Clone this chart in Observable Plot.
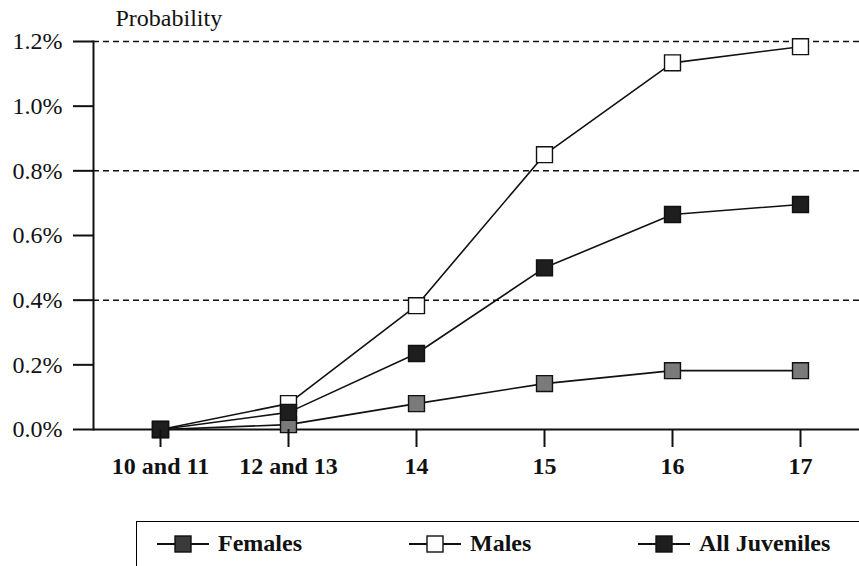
<!DOCTYPE html>
<html>
<head>
<meta charset="utf-8">
<script src="https://cdn.jsdelivr.net/npm/d3@7"></script>
<script src="https://cdn.jsdelivr.net/npm/@observablehq/plot@0.6"></script>
<style>
  html, body { margin: 0; padding: 0; background: #fff; }
  #wrap { position: relative; width: 859px; height: 566px; overflow: hidden; font-family: "Liberation Serif", "Times New Roman", Times, "DejaVu Serif", serif; }
  #chart svg { display: block; font-family: "Liberation Serif", "Times New Roman", Times, "DejaVu Serif", serif !important; }
  #chart svg text { font-family: "Liberation Serif", "Times New Roman", Times, "DejaVu Serif", serif !important; }
  #legend { position: absolute; left: 136px; top: 521px; width: 760px; height: 60px; border-top: 1.5px solid #000; border-left: 1.5px solid #000; }
  .item { position: absolute; top: 8px; display: flex; align-items: center; font-weight: bold; font-size: 24px; color: #111; }
  .item svg { margin-right: 8px; }
</style>
</head>
<body>
<div id="wrap">
  <div id="chart"></div>
  <div id="legend"></div>
</div>
<script>
const ages = ["10 and 11", "12 and 13", "14", "15", "16", "17"];
const females = [0, 0.015, 0.08, 0.142, 0.182, 0.182];
const males = [0, 0.08, 0.383, 0.85, 1.134, 1.184];
const allJuveniles = [0, 0.053, 0.235, 0.50, 0.665, 0.696];
const yTicks = [0, 0.2, 0.4, 0.6, 0.8, 1.0, 1.2];
const gridTicks = [0.4, 0.8, 1.2];

const seriesNames = ["Females", "Males", "All Juveniles"];
const seriesValues = [females, males, allJuveniles];
const fills = {"Females": "#7a7a7a", "Males": "#ffffff", "All Juveniles": "#1e1e1e"};

const rows = [];
seriesNames.forEach((s, i) => ages.forEach((a, j) => rows.push({series: s, age: a, value: seriesValues[i][j]})));

const font = "'Liberation Serif', 'Times New Roman', Times, 'DejaVu Serif', serif";

const chart = Plot.plot({
  width: 859,
  height: 515,
  marginLeft: 93,
  marginRight: 0,
  marginTop: 41,
  marginBottom: 86,
  style: {fontFamily: font, background: "#fff", color: "#111"},
  x: {type: "point", domain: ages, range: [158, 801], padding: 0},
  y: {domain: [0, 1.2]},
  marks: [
    Plot.ruleY(gridTicks, {stroke: "#111", strokeWidth: 1.5, strokeDasharray: "6,4"}),
    Plot.frame({anchor: "left", stroke: "#111", strokeWidth: 2}),
    Plot.ruleY([0], {stroke: "#111", strokeWidth: 2}),
    Plot.line(rows, {x: "age", y: "value", z: "series", stroke: "#111", strokeWidth: 1.6}),
    Plot.dot(rows, {x: "age", y: "value", symbol: "square", r: 9, fill: d => fills[d.series], stroke: "#111", strokeWidth: 1.4}),
    Plot.axisY({ticks: yTicks, tickFormat: d => d.toFixed(1) + "%", tickSize: 20, tickPadding: 11, fontSize: 24, label: null, strokeWidth: 2, stroke: "#111"}),
    Plot.axisX({tickSize: 18, tickPadding: 9, fontSize: 24, fontWeight: "bold", label: null, strokeWidth: 2, stroke: "#111"}),
    Plot.text(["Probability"], {frameAnchor: "top-left", dx: 22, dy: -16, textAnchor: "start", lineAnchor: "bottom", fontSize: 24, fill: "#111"})
  ]
});
document.getElementById("chart").appendChild(chart);

// Legend
const legend = document.getElementById("legend");
const lefts = {"Females": 19, "Males": 271, "All Juveniles": 500};
seriesNames.forEach(s => {
  const div = document.createElement("div");
  div.className = "item";
  div.style.left = lefts[s] + "px";
  const ns = "http://www.w3.org/2000/svg";
  const sv = document.createElementNS(ns, "svg");
  sv.setAttribute("width", 54); sv.setAttribute("height", 24);
  const ln = document.createElementNS(ns, "line");
  ln.setAttribute("x1", 1); ln.setAttribute("x2", 53); ln.setAttribute("y1", 12); ln.setAttribute("y2", 12);
  ln.setAttribute("stroke", "#111"); ln.setAttribute("stroke-width", 2);
  const rc = document.createElementNS(ns, "rect");
  rc.setAttribute("x", 19); rc.setAttribute("y", 4); rc.setAttribute("width", 16); rc.setAttribute("height", 16);
  rc.setAttribute("fill", s === "Females" ? "#3a3a3a" : fills[s]); rc.setAttribute("stroke", "#111"); rc.setAttribute("stroke-width", 1.4);
  sv.appendChild(ln); sv.appendChild(rc);
  div.appendChild(sv);
  const t = document.createElement("span");
  t.textContent = s;
  div.appendChild(t);
  legend.appendChild(div);
});
</script>
</body>
</html>
